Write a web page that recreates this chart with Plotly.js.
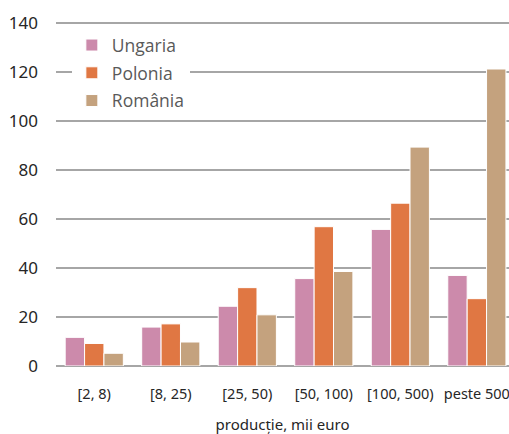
<!DOCTYPE html>
<html>
<head>
<meta charset="utf-8">
<script src="https://cdn.plot.ly/plotly-3.0.1.min.js"></script>
<style>html,body{margin:0;padding:0;background:#fff;}#chart{width:509px;height:434px;}</style>
</head>
<body>
<div id="chart"></div>
<script>
const categories = ["[2, 8)", "[8, 25)", "[25, 50)", "[50, 100)", "[100, 500)", "peste 500"];
const ungaria = [11.7, 15.9, 24.4, 35.7, 55.8, 37.0];
const polonia = [9.2, 17.2, 32.0, 56.9, 66.5, 27.5];
const romania = [5.2, 9.8, 20.9, 38.6, 89.4, 121.3];
const yTicks = [0, 20, 40, 60, 80, 100, 120, 140];

const condensed = '"Liberation Sans Narrow", "Noto Sans", sans-serif';
function bar(name, y, color, g) {
  return {type: 'bar', name: name, x: categories, y: y, legendgroup: g,
    marker: {color: color, line: {color: '#ffffff', width: 1}}};
}
const data = [
  bar('Ungaria', ungaria, '#cc8aab', 'a'),
  bar('Polonia', polonia, '#e07743', 'b'),
  bar('România', romania, '#c4a27e', 'c')
];
const layout = {
  width: 509, height: 434,
  margin: {l: 56, r: 0, t: 22, b: 68},
  paper_bgcolor: '#ffffff', plot_bgcolor: '#ffffff',
  barmode: 'group', bargap: 0.24, bargroupgap: 0,
  showlegend: true,
  legend: {x: 0.035, y: 0.985, xanchor: 'left', yanchor: 'top', bgcolor: '#ffffff',
    font: {family: '"Open Sans", "Noto Sans", sans-serif', size: 17.5, color: '#595959'},
    itemwidth: 30, traceorder: 'grouped', tracegroupgap: 2, borderwidth: 0},
  xaxis: {type: 'category', range: [-0.5, 5.42], showgrid: false, showline: false, zeroline: false,
    ticks: '', ticklabelstandoff: 17, tickfont: {family: condensed, size: 14.5, color: '#262626'},
    title: {text: 'producție, mii euro', standoff: 20, font: {family: condensed, size: 15, color: '#262626'}}},
  yaxis: {range: [0, 140.5], tickvals: yTicks, showgrid: true, gridcolor: '#a6a6a6', gridwidth: 2,
    zeroline: true, zerolinecolor: '#a6a6a6', zerolinewidth: 2, showline: false, ticks: '',
    ticklabelstandoff: 17,
    tickfont: {family: condensed, size: 17, color: '#262626'}}
};
Plotly.newPlot('chart', data, layout, {displayModeBar: false, staticPlot: true});
</script>
</body>
</html>
